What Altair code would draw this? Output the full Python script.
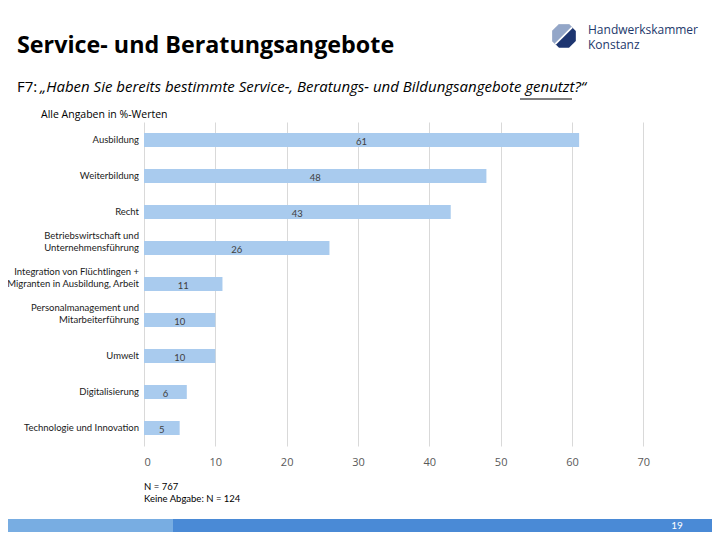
import altair as alt
import pandas as pd

# ---- data ----
categories = [
    "Ausbildung",
    "Weiterbildung",
    "Recht",
    "Betriebswirtschaft und|Unternehmensführung",
    "Integration von Flüchtlingen +|Migranten in Ausbildung, Arbeit",
    "Personalmanagement und|Mitarbeiterführung",
    "Umwelt",
    "Digitalisierung",
    "Technologie und Innovation",
]
values = [61, 48, 43, 26, 11, 10, 10, 6, 5]
x_ticks = [0, 10, 20, 30, 40, 50, 60, 70]

title_text = "Service- und Beratungsangebote"
question_prefix = "F7:"
question_text = "„Haben Sie bereits bestimmte Service-, Beratungs- und Bildungsangebote genutzt?“"
unit_note = "Alle Angaben in %-Werten"
sample_notes = ["N = 767", "Keine Abgabe: N = 124"]
org_name = ["Handwerkskammer", "Konstanz"]
page_no = "19"

df = pd.DataFrame({"cat": categories, "value": values})

FONT = "Open Sans"
NARROW = "Lato"
BAR = "#a9cbee"

ysc = alt.Scale(domain=categories, paddingInner=0.61, paddingOuter=0.305)
xsc = alt.Scale(domain=[0, 75], nice=False)

base = alt.Chart(df)

bars = base.mark_bar(color=BAR).encode(
    y=alt.Y("cat:N", scale=ysc, axis=None, sort=None),
    x=alt.X("value:Q", scale=xsc,
            axis=alt.Axis(values=x_ticks, grid=True, gridColor="#d9d9d9", domain=False,
                          ticks=False, labelColor="#595959", labelFont=FONT,
                          labelFontSize=11, labelPadding=10, title=None)),
)

vlabels = base.transform_calculate(mid="datum.value / 2").mark_text(
    font=NARROW, fontSize=9.5, color="#404040", dy=2
).encode(
    y=alt.Y("cat:N", scale=ysc, sort=None),
    x=alt.X("mid:Q", scale=xsc),
    text="value:Q",
)

split_base = base.transform_calculate(
    parts="split(datum.cat, '|')",
).transform_calculate(
    last="datum.parts[length(datum.parts) - 1]",
    first="length(datum.parts) > 1 ? datum.parts[0] : ''",
)

clabels_last = split_base.mark_text(
    font=NARROW, fontSize=9.5, color="#1a1a1a", align="right", baseline="middle", dy=0
).encode(
    y=alt.Y("cat:N", scale=ysc, sort=None),
    x=alt.value(-5),
    text="last:N",
)
clabels_first = split_base.mark_text(
    font=NARROW, fontSize=9.5, color="#1a1a1a", align="right", baseline="middle", dy=-12
).encode(
    y=alt.Y("cat:N", scale=ysc, sort=None),
    x=alt.value(-5),
    text="first:N",
)

def txt(s, x, y, **kw):
    return alt.Chart(pd.DataFrame({"t": [s]})).mark_text(**kw).encode(
        x=alt.value(x), y=alt.value(y), text="t:N")

title = txt(title_text, -127, -69, font=FONT, fontSize=23.3, fontWeight="bold",
            color="#000000", align="left", baseline="alphabetic")
q1 = txt(question_prefix, -127, -30, font=FONT, fontSize=15, color="#000000",
         align="left", baseline="alphabetic")
q2 = txt(question_text, -104, -30, font=FONT, fontSize=15, fontStyle="italic",
         color="#000000", align="left", baseline="alphabetic")
unit = txt(unit_note, -103, -4, font=FONT, fontSize=10.5, color="#000000",
           align="left", baseline="alphabetic")
n1 = txt(sample_notes[0], 0, 368, font=NARROW, fontSize=9.5, color="#000000",
         align="left", baseline="alphabetic")
n2 = txt(sample_notes[1], 0, 380, font=NARROW, fontSize=9.5, color="#000000",
         align="left", baseline="alphabetic")
org1 = txt(org_name[0], 444, -88, font=FONT, fontSize=12, color="#22386b",
           align="left", baseline="alphabetic")
org2 = txt(org_name[1], 444, -73, font=FONT, fontSize=12, color="#22386b",
           align="left", baseline="alphabetic")

octagon = "M -0.42,-1 L 0.42,-1 L 1,-0.42 L 1,0.42 L 0.42,1 L -0.42,1 L -1,0.42 L -1,-0.42 Z"
gap = "M -0.42,-1 L 0.42,-1 L 0.735,-0.685 L -0.685,0.735 L -1,0.42 L -1,-0.42 Z"
light = "M -0.42,-1 L 0.42,-1 L 0.635,-0.785 L -0.785,0.635 L -1,0.42 L -1,-0.42 Z"
one = pd.DataFrame({"k": [0]})

def logo_part(path, col):
    return alt.Chart(one).mark_point(shape=path, filled=True, color=col, opacity=1,
                                     size=560, strokeWidth=0).encode(
        x=alt.value(420), y=alt.value(-86))

logo1 = logo_part(octagon, "#1d3570")
logo2 = logo_part(gap, "#ffffff")
logo3 = logo_part(light, "#93a6c8")

underline = alt.Chart(one).mark_rule(color="#000000", strokeWidth=1).encode(
    x=alt.value(376), x2=alt.value(428), y=alt.value(-23))

foot1 = alt.Chart(one).mark_rect(color="#78ade2").encode(
    x=alt.value(-136), x2=alt.value(29), y=alt.value(397), y2=alt.value(410))
foot2 = alt.Chart(one).mark_rect(color="#4a8ad6").encode(
    x=alt.value(29), x2=alt.value(568), y=alt.value(397), y2=alt.value(410))
pno = txt(page_no, 533, 404, font=NARROW, fontSize=10, color="#ffffff",
          align="center", baseline="middle")

chart = alt.layer(
    bars, vlabels, clabels_last, clabels_first, title, q1, q2, underline, unit, n1, n2,
    org1, org2, logo1, logo2, logo3, foot1, foot2, pno
).properties(
    width=535, height=324,
    autosize=alt.AutoSizeParams(type="none"),
    padding={"left": 136, "top": 114, "right": 33, "bottom": 86},
).configure_view(stroke=None)

chart.save("out.html", embed_options={"renderer": "svg", "actions": False})
